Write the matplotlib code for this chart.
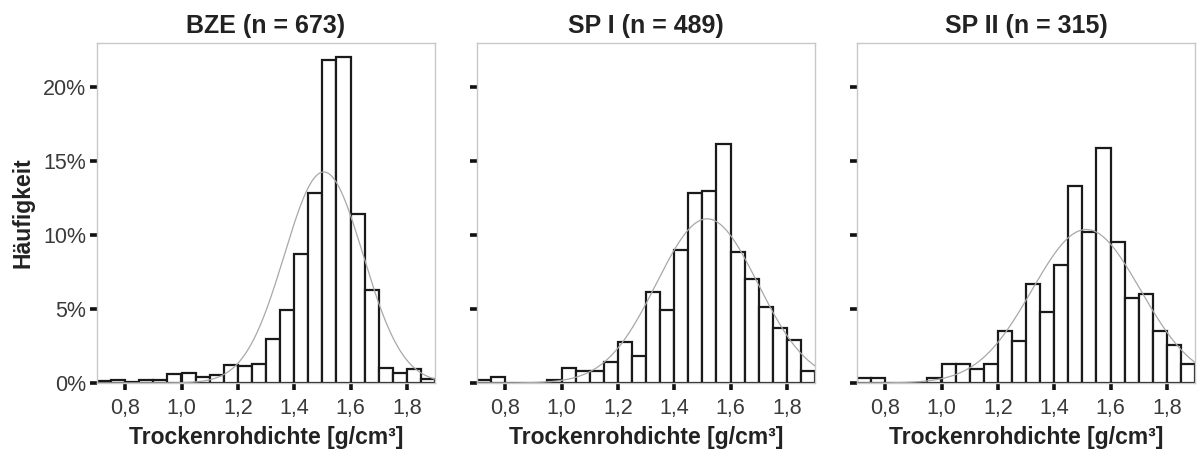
import numpy as np
import matplotlib
matplotlib.use("Agg")
import matplotlib.pyplot as plt
from matplotlib.ticker import FuncFormatter

plt.rcParams['font.family'] = ['Liberation Sans', 'DejaVu Sans']

# ---- data ----
titles = ["BZE (n = 673)", "SP I (n = 489)", "SP II (n = 315)"]
bin_start = 0.70
bin_width = 0.05
# percent of samples per 0.05 g/cm3 bin, bins 0.70 ... 1.90
bze_pct = [0.13, 0.22, 0.10, 0.22, 0.22, 0.59, 0.70, 0.41, 0.56, 1.19, 1.15, 1.30,
           3.00, 4.91, 8.69, 12.80, 21.80, 21.98, 11.44, 6.31, 1.04, 0.68, 0.97, 0.29]
sp1_pct = [0.20, 0.41, 0.00, 0.00, 0.00, 0.20, 1.02, 0.82, 0.82, 1.43, 2.77, 1.84,
           6.13, 4.91, 9.00, 12.80, 12.97, 16.16, 8.85, 7.05, 5.14, 3.72, 2.89, 0.82]
sp2_pct = [0.32, 0.32, 0.00, 0.00, 0.00, 0.32, 1.27, 1.27, 0.95, 1.27, 3.49, 2.86,
           6.67, 4.76, 7.94, 13.33, 10.16, 15.87, 9.52, 5.71, 6.03, 3.49, 2.54, 1.27]
# fitted normal distributions (mean, sd) in g/cm3
fit_mean = [1.505, 1.517, 1.514]
fit_sd = [0.140, 0.180, 0.1925]

xticks = [0.8, 1.0, 1.2, 1.4, 1.6, 1.8]
yticks = [0, 5, 10, 15, 20]

series = [bze_pct, sp1_pct, sp2_pct]

fig = plt.figure(figsize=(12, 4.51), dpi=100)
W, H = 1200, 451
lefts = [97, 477, 857]
ax_w, ax_top, ax_bot = 338, 43, 383

tick_color = "#3a3a3a"
for i in range(3):
    ax = fig.add_axes([lefts[i] / W, (H - ax_bot) / H, ax_w / W, (ax_bot - ax_top) / H])
    vals = series[i]
    edges = bin_start + bin_width * np.arange(len(vals))
    ax.bar(edges, vals, width=bin_width, align='edge', facecolor='white',
           edgecolor='#1a1a1a', linewidth=1.6, zorder=2)
    xs = np.linspace(0.70, 1.90, 400)
    dens = bin_width * 100 / (fit_sd[i] * np.sqrt(2 * np.pi)) * np.exp(-0.5 * ((xs - fit_mean[i]) / fit_sd[i]) ** 2)
    ax.plot(xs, dens, color='#a8a8a8', linewidth=0.9, zorder=3)
    ax.set_xlim(0.70, 1.90)
    ax.set_ylim(0, 22.95)
    ax.set_xticks(xticks)
    ax.set_xticklabels([f"{t:.1f}".replace('.', ',') for t in xticks])
    ax.set_yticks(yticks)
    if i == 0:
        ax.yaxis.set_major_formatter(FuncFormatter(lambda v, p: f"{int(v)}%"))
        ax.set_ylabel("Häufigkeit", fontsize=16.5, fontweight='bold', color='#222222', labelpad=6)
    else:
        ax.set_yticklabels([])
    for s in ax.spines.values():
        s.set_color('#c8c8c8')
        s.set_linewidth(1.0)
    ax.tick_params(axis='both', direction='out', length=5, width=2.6, color='#111111',
                   labelsize=15.5, labelcolor=tick_color, pad=3)
    ax.tick_params(axis='x', pad=6)
    ax.set_xlabel("Trockenrohdichte [g/cm³]", fontsize=16.5, fontweight='bold', color='#222222', labelpad=5)
    ax.set_title(titles[i], fontsize=18, fontweight='bold', color='#222222', pad=7)

fig.savefig("out.png", dpi=100, facecolor='white')
